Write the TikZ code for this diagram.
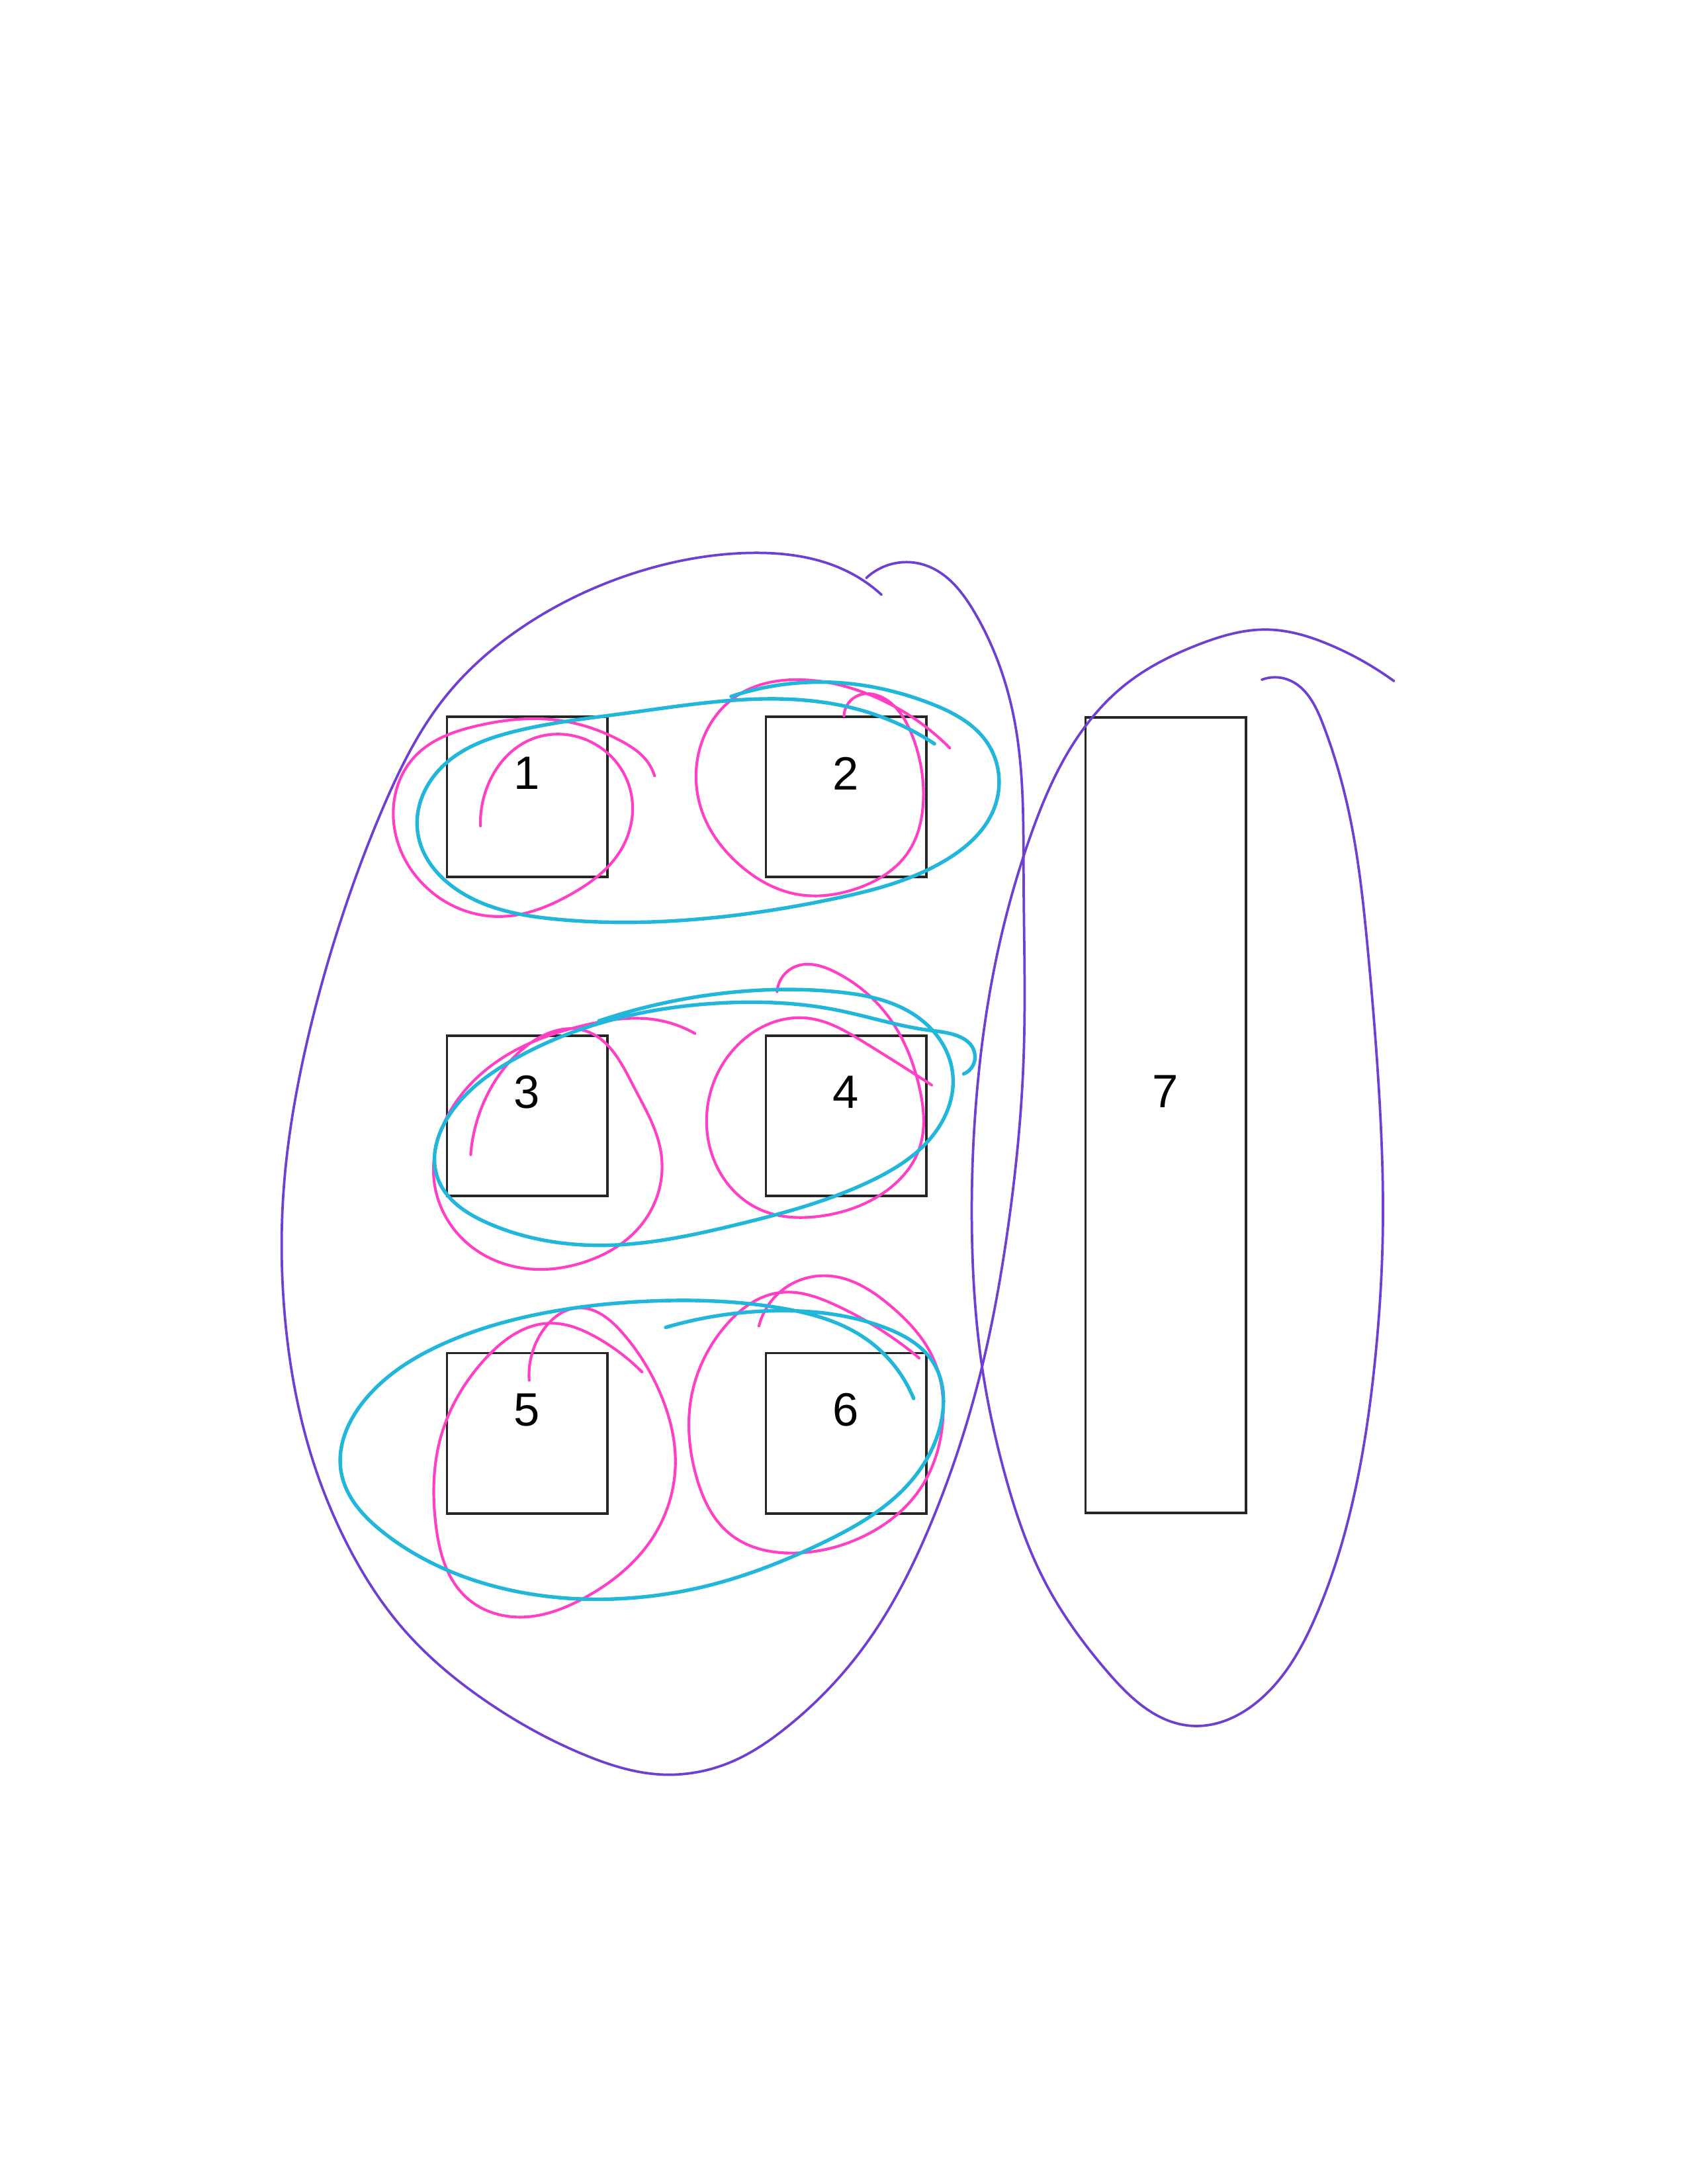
\documentclass[tikz,border=0pt]{standalone}
\usepackage{fontspec}
\setmainfont{Liberation Sans}
\usepackage{tikz}
\usepackage{xcolor}
\usetikzlibrary{positioning, hobby}
\definecolor{grppurple}{HTML}{6E3FD2}
\definecolor{pairpink}{HTML}{FF3FC4}
\definecolor{paircyan}{HTML}{22B6DA}

\begin{document}
\begin{tikzpicture}[
  x=0.017813cm, y=-0.017813cm,
  box/.style={draw=black!85, line width=0.9pt, minimum width=2.05cm, minimum height=2.05cm,
              inner sep=0pt, text depth=0.6cm, font=\fontsize{17}{20}\selectfont},
  tallbox/.style={box, minimum height=10.17cm},
  grp/.style={grppurple, line width=0.9pt, line cap=round, use Hobby shortcut},
  pair/.style={paircyan, line width=1.3pt, line cap=round, use Hobby shortcut},
  single/.style={pairpink, line width=1pt, line cap=round, use Hobby shortcut}
]
\useasboundingbox (0,0) rectangle (1212,1568);

\node[box] (b1) at (378.5,572) {1};
\node[box] (b2) at (607.5,572) {2};
\node[box] (b3) at (378.5,801) {3};
\node[box] (b4) at (607.5,801) {4};
\node[box] (b5) at (378.5,1029) {5};
\node[box] (b6) at (607.5,1029) {6};
\node[tallbox] (b7) at (837,800.5) {7};

% pink loops, one per box
\draw[single] (345,593) .. (352,560) .. (381,531) .. (425,533) .. (452,565) .. (446,610) .. (410,642) .. (358,658) .. (305,636) .. (283,593) .. (298,543) .. (343,521) .. (400,517) .. (446,532) .. (465,547) .. (470,557);
\draw[single] (606,514) .. (617,499) .. (632,500) .. (655,528) .. (663,575) .. (652,612) .. (615,638) .. (572,642) .. (530,620) .. (505,585) .. (505,530) .. (530,499) .. (575,488) .. (625,499) .. (682,537);
\draw[single] (338,829) .. (352,782) .. (378,751) .. (420,740) .. (455,780) .. (475,830) .. (460,880) .. (420,906) .. (380,911) .. (336,893) .. (312,850) .. (322,800) .. (360,760) .. (420,736) .. (470,732) .. (499,742);
\draw[single] (558,712) .. (571,694) .. (600,698) .. (638,730) .. (660,780) .. (660,825) .. (635,856) .. (590,873) .. (545,868) .. (515,838) .. (508,795) .. (530,750) .. (580,731) .. (620,748) .. (669,779);
\draw[single] (380,991) .. (390,955) .. (415,939) .. (447,957) .. (476,1005) .. (485,1050) .. (468,1105) .. (420,1147) .. (374,1161) .. (335,1147) .. (313,1095) .. (317,1030) .. (348,976) .. (395,950) .. (428,960) .. (461,985);
\draw[single] (545,952) .. (562,926) .. (595,916) .. (640,938) .. (670,975) .. (677,1020) .. (660,1070) .. (620,1103) .. (570,1115) .. (525,1102) .. (500,1060) .. (497,1000) .. (520,953) .. (560,928) .. (600,937) .. (660,975);

% cyan loops, one per row
\draw[pair] (525,500) .. (600,490) .. (668,505) .. (710,535) .. (714,580) .. (680,617) .. (600,645) .. (500,660) .. (400,660) .. (330,640) .. (300,598) .. (318,550) .. (370,525) .. (450,512) .. (540,502) .. (615,509) .. (671,534);
\draw[pair] (692,771) .. (700,757) .. (670,740) .. (600,725) .. (520,720) .. (440,732) .. (370,760) .. (323,800) .. (314,845) .. (350,878) .. (437,894) .. (530,879) .. (625,848) .. (670,815) .. (684,770) .. (660,731) .. (600,712) .. (520,713) .. (430,733);
\draw[pair] (478,953) .. (560,941) .. (635,953) .. (670,978) .. (676,1020) .. (650,1068) .. (590,1108) .. (510,1138) .. (440,1148) .. (345,1136) .. (275,1100) .. (245,1057) .. (262,1005) .. (320,964) .. (400,941) .. (470,934) .. (560,939) .. (620,960) .. (656,1004);

% purple groups
\draw[grp] (633,427) .. (610,411) .. (537,397) .. (460,410) .. (380,447) .. (320,500) .. (275,580) .. (245,660) .. (220,750) .. (204,850) .. (205,950) .. (222,1040) .. (250,1110) .. (290,1170) .. (350,1222) .. (420,1260) .. (475,1274) .. (525,1265) .. (565,1240) .. (622,1180) .. (670,1090) .. (703,990) .. (724,880) .. (735,760) .. (735,630) .. (728,515) .. (700,440) .. (665,406) .. (640,405) .. (622,415);
\draw[grp] (1001,489) .. (955,463) .. (910,452) .. (860,463) .. (810,490) .. (770,535) .. (740,600) .. (715,690) .. (701,790) .. (698,890) .. (705,980) .. (722,1060) .. (750,1135) .. (795,1200) .. (855,1239) .. (905,1220) .. (945,1160) .. (972,1075) .. (987,980) .. (993,880) .. (990,780) .. (982,680) .. (969,585) .. (950,520) .. (925,488) .. (906,488);
\end{tikzpicture}
\end{document}
